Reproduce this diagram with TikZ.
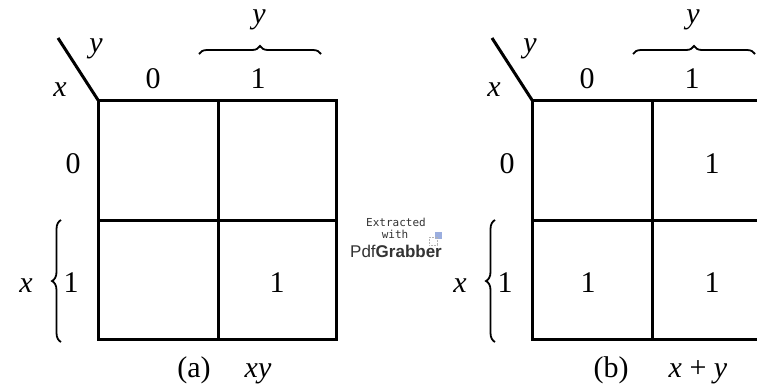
\documentclass[tikz,border=0pt]{standalone}
\usepackage{fontspec}
\setmainfont{Liberation Serif}
\newfontfamily\wmsans{Liberation Sans}
\newfontfamily\wmmono{DejaVu Sans Mono}
\usetikzlibrary{decorations.pathreplacing}
\begin{document}
\begin{tikzpicture}[x=1pt,y=-1pt,
  gridline/.style={line width=3pt, line cap=rect},
  bracestyle/.style={line width=1.8pt, decorate},
  lbl/.style={inner sep=0pt, anchor=base, font=\fontsize{30}{33}\selectfont},
  ilbl/.style={inner sep=0pt, anchor=base, font=\fontsize{30}{33}\selectfont\itshape},
  wm/.style={inner sep=0pt, text=black!80}]
\useasboundingbox (0,0) rectangle (757,389);
\clip (0,0) rectangle (757,389);
\fill[white] (0,0) rectangle (757,389);
% ---------- map (a)
\coordinate (aTL) at (98,100);
\coordinate (aDiag) at (58,38);
\draw[gridline] (98,100) rectangle (336,339);
\draw[gridline] (218,100) -- (218,339);
\draw[gridline] (98,220) -- (336,220);
\draw[line width=3pt] (aDiag) -- (aTL);
\node[ilbl] (ay1) at (96,52) {y};
\node[ilbl] (ax1) at (60,96) {x};
\node[lbl] (ac0) at (153,88) {0};
\node[lbl] (ac1) at (258,88) {1};
\node[lbl] (ar0) at (73,173) {0};
\node[lbl] (ar1) at (71,292) {1};
\node[ilbl] (ay2) at (259,23) {y};
\node[ilbl] (ax2) at (26,292) {x};
\coordinate (abt1) at (199,54);
\coordinate (abt2) at (321,54);
\draw[bracestyle, decoration={brace, amplitude=8pt}] (abt1) -- (abt2);
\coordinate (abl1) at (61,342);
\coordinate (abl2) at (61,220);
\draw[bracestyle, decoration={brace, amplitude=9pt}] (abl1) -- (abl2);
\node[lbl] (a11) at (277,292) {1};
\node[lbl] (acap) at (194,377) {(a)};
\node[ilbl] (aexpr) at (258,377) {xy};
% ---------- map (b)
\begin{scope}[xshift=434pt]
\coordinate (bTL) at (98,100);
\coordinate (bDiag) at (58,38);
\draw[gridline] (98,100) rectangle (336,339);
\draw[gridline] (218,100) -- (218,339);
\draw[gridline] (98,220) -- (336,220);
\draw[line width=3pt] (bDiag) -- (bTL);
\node[ilbl] (by1) at (96,52) {y};
\node[ilbl] (bx1) at (60,96) {x};
\node[lbl] (bc0) at (153,88) {0};
\node[lbl] (bc1) at (258,88) {1};
\node[lbl] (br0) at (73,173) {0};
\node[lbl] (br1) at (71,292) {1};
\node[ilbl] (by2) at (259,23) {y};
\node[ilbl] (bx2) at (26,292) {x};
\coordinate (bbt1) at (199,54);
\coordinate (bbt2) at (321,54);
\draw[bracestyle, decoration={brace, amplitude=8pt}] (bbt1) -- (bbt2);
\coordinate (bbl1) at (61,342);
\coordinate (bbl2) at (61,220);
\draw[bracestyle, decoration={brace, amplitude=9pt}] (bbl1) -- (bbl2);
\node[lbl] (b01) at (278,173) {1};
\node[lbl] (b10) at (154,292) {1};
\node[lbl] (b11) at (278,292) {1};
\node[lbl] (bcap) at (177,377) {(b)};
\node[lbl] (bexpr) at (264,377) {\itshape x\normalfont\ + \itshape y};
\end{scope}
% ---------- watermark
\node[wm, font=\wmmono\fontsize{11}{12}\selectfont] (wm1) at (396,222) {Extracted};
\node[wm, font=\wmmono\fontsize{11}{12}\selectfont] (wm2) at (395,234) {with};
\node[wm, font=\wmsans\fontsize{17}{18}\selectfont] (wm3) at (396,251) {Pdf\textbf{Grabber}};
\fill[cyan!40!blue!40] (435,232) rectangle (442,239);
\draw[black!30, densely dotted, line width=0.6pt] (429,237) rectangle (437,245);
\end{tikzpicture}
\end{document}
